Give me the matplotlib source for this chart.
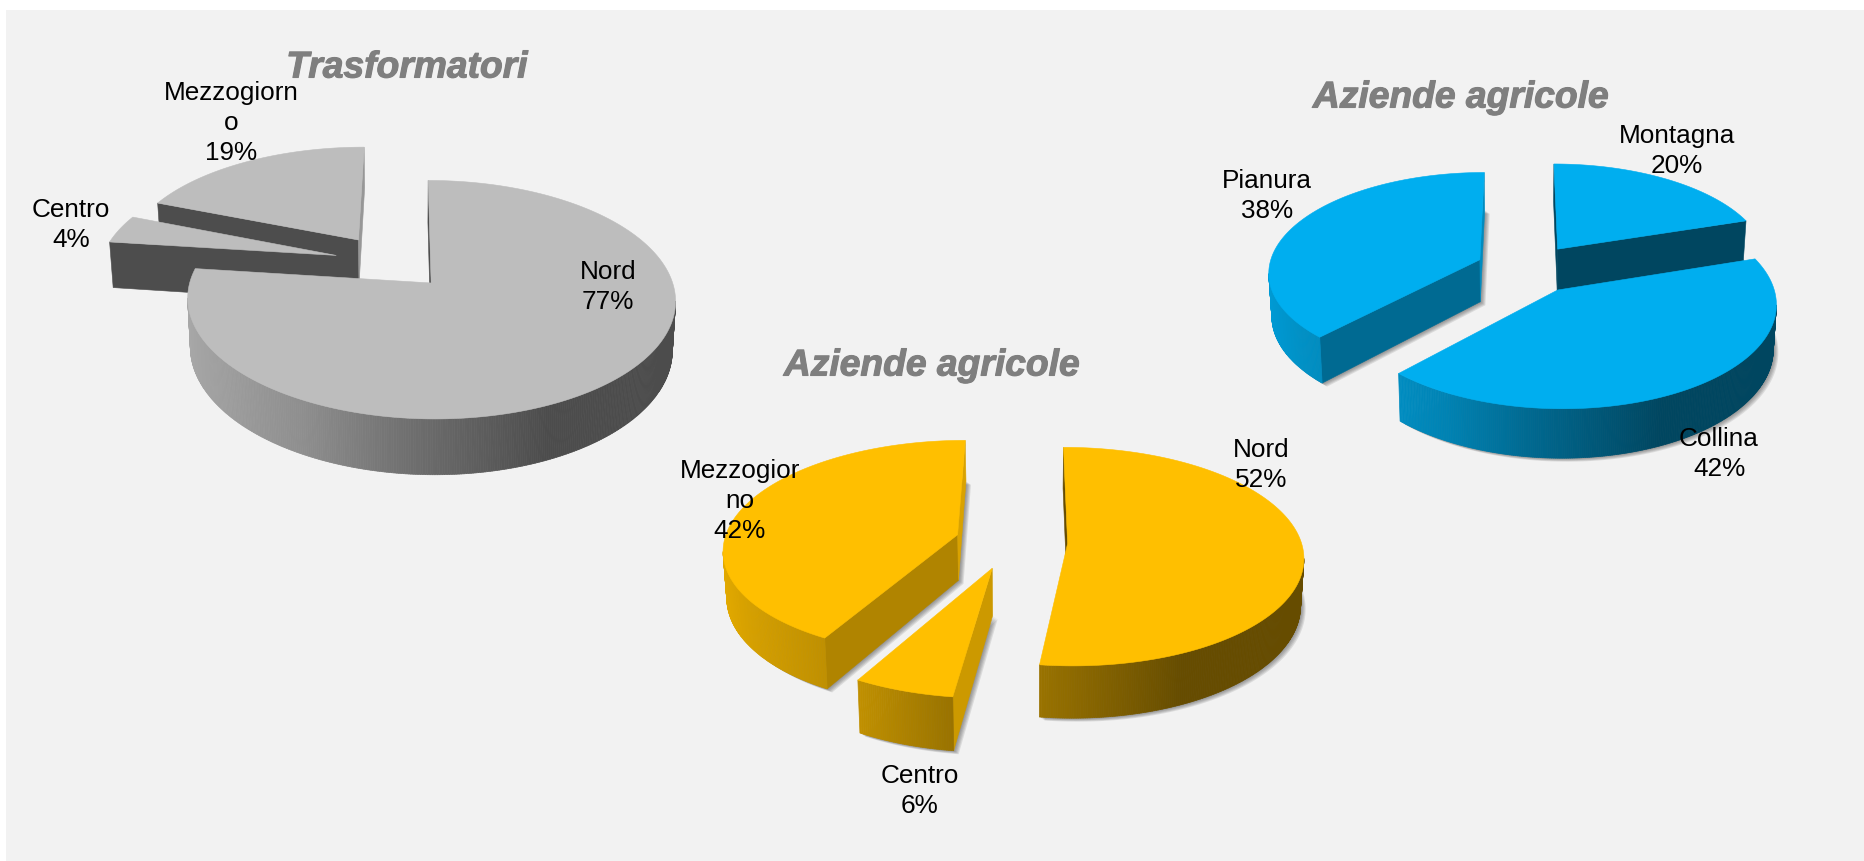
# torte 3D: trasformatori e aziende agricole
import numpy as np
import matplotlib
matplotlib.use("Agg")
import matplotlib.pyplot as plt
import matplotlib.patheffects as pe
from matplotlib.collections import PolyCollection
from matplotlib.patches import Polygon, Rectangle

# Dati (in senso orario da ore 12)
titles = ["Trasformatori", "Aziende agricole", "Aziende agricole"]

trasf_names = ["Nord", "Centro", "Mezzogiorn\no"]
trasf_values = [77, 4, 19]

nord_names = ["Nord", "Centro", "Mezzogior\nno"]
nord_values = [52, 6, 42]

zona_names = ["Montagna", "Collina", "Pianura"]
zona_values = [20, 42, 38]

# Stile delle torte: centro, raggi, prospettiva, spessore, colore
pies = [
    dict(names=trasf_names, values=trasf_values, title=titles[0], title_xy=(407, 68),
         cx=407, cy=283, rx=241.5, ry=116.9, k=0.14, depth=48, color="#BDBDBD", shadow=False,
         explode=[(0.10, 0.0), (-0.303, 0.244), (-0.212, 0.388)],
         cut=[(0.41, 0.41), (0.41, 0.80), (0.41, 0.80)],
         label_xy=[(608, 287), (71, 225), (231, 123)]),
    dict(names=nord_names, values=nord_values, title=titles[1], title_xy=(932, 366),
         cx=1029, cy=543.5, rx=234, ry=107.7, k=0.12, depth=46, color="#FFBF00", shadow=True,
         explode=[(0.165, 0.0), (-0.153, -0.224), (-0.308, 0.082)],
         cut=[(0.40, 0.40), (0.80, 0.80), (0.69, 0.85)],
         label_xy=[(1261, 465), (920, 791), (740, 501)]),
    dict(names=zona_names, values=zona_values, title=titles[2], title_xy=(1461, 98),
         cx=1521.7, cy=290, rx=216.6, ry=104.5, k=0.12, depth=43.5, color="#00AEEF", shadow=True,
         explode=[(0.174, 0.41), (0.166, 0.0), (-0.20, 0.30)],
         cut=[(0.40, 0.40), (0.40, 0.40), (0.61, 0.80)],
         label_xy=[(1677, 151), (1719, 454), (1267, 196)]),
]


def shade(color, f):
    rgb = np.array(matplotlib.colors.to_rgb(color))
    return tuple(rgb * f)


def rim_factor(t):
    # fianco chiaro a sinistra, scuro a destra
    return np.interp(np.sin(t), [-1, -0.47, -0.12, 0.42], [0.89, 0.75, 0.60, 0.40])


def project(pie, X, Z):
    w = 1 + pie["k"] * Z
    return pie["cx"] + pie["rx"] * X / w, pie["cy"] - pie["ry"] * Z / w, w


def drop(pie, x, y, w):
    # punto sul bordo inferiore dello spessore
    return pie["cx"] + (x - pie["cx"]) * 0.988, y + pie["depth"] / w


def draw_pie(ax, pie):
    total = sum(pie["values"])
    edges = np.cumsum([0] + pie["values"]) / total * 2 * np.pi
    slices = []
    for i in range(len(pie["values"])):
        ex, ez = pie["explode"][i]
        t = np.linspace(edges[i], edges[i + 1], max(int(np.degrees(edges[i + 1] - edges[i]) * 2), 2))
        X = np.concatenate([[ex], ex + np.sin(t)])
        Z = np.concatenate([[ez], ez + np.cos(t)])
        x, y, w = project(pie, X, Z)
        slices.append((ez, i, t, x, y, w))

    # ombra sotto le fette
    if pie["shadow"]:
        for ez, i, t, x, y, w in slices:
            bx, by = drop(pie, x, y, w)
            for off in (1, 2, 3, 4, 5):
                ax.add_patch(Polygon(np.column_stack([bx + off, by + off * 0.7]), closed=True,
                                     facecolor="#404040", edgecolor="none", alpha=0.13, zorder=1))

    z = 2
    for ez, i, t, x, y, w in sorted(slices, key=lambda s: -s[0]):
        bx, by = drop(pie, x, y, w)
        color = pie["color"]
        start_f, end_f = pie["cut"][i]

        # facce di taglio: visibili solo se il bordo va verso sinistra
        if x[1] < x[0]:
            quad = [(x[0], y[0]), (x[1], y[1]), (bx[1], by[1]), (bx[0], by[0])]
            ax.add_patch(Polygon(quad, closed=True, facecolor=shade(color, start_f),
                                 edgecolor=shade(color, start_f), lw=0.4, zorder=z))
        if x[0] < x[-1]:
            quad = [(x[-1], y[-1]), (x[0], y[0]), (bx[0], by[0]), (bx[-1], by[-1])]
            ax.add_patch(Polygon(quad, closed=True, facecolor=shade(color, end_f),
                                 edgecolor=shade(color, end_f), lw=0.4, zorder=z))

        # bordo esterno a strisce per il gradiente
        quads = []
        cols = []
        for j in range(1, len(x) - 1):
            if x[j + 1] < x[j]:
                quads.append([(x[j], y[j]), (x[j + 1], y[j + 1]), (bx[j + 1], by[j + 1]), (bx[j], by[j])])
                cols.append(shade(color, rim_factor(t[j - 1])))
        if quads:
            ax.add_collection(PolyCollection(quads, facecolors=cols, edgecolors=cols, linewidths=0.5, zorder=z + 1))

        ax.add_patch(Polygon(np.column_stack([x, y]), closed=True, facecolor=color,
                             edgecolor=color, lw=0.4, zorder=z + 2))
        z += 3

    ax.text(pie["title_xy"][0], pie["title_xy"][1], pie["title"], ha="center", va="center",
            fontsize=26.8, fontweight="bold", fontstyle="italic", color="#7F7F7F", zorder=60,
            path_effects=[pe.withStroke(linewidth=0.8, foreground="#7F7F7F")])

    for name, val, xy in zip(pie["names"], pie["values"], pie["label_xy"]):
        ax.text(xy[0], xy[1], f"{name}\n{val}%", ha="center", va="center", fontsize=18.8,
                color="black", linespacing=1.29, zorder=70)


def main():
    plt.rcParams["font.family"] = ["Liberation Sans", "DejaVu Sans"]
    fig = plt.figure(figsize=(18.65, 8.61), dpi=100, facecolor="white")
    ax = fig.add_axes([0, 0, 1, 1])
    ax.set_xlim(0, 1865)
    ax.set_ylim(861, 0)
    ax.axis("off")

    # fondo grigio fino al bordo destro e inferiore
    ax.add_patch(Rectangle((6, 10), 1859, 851, facecolor="#F2F2F2", edgecolor="none", zorder=0))

    for pie in pies:
        draw_pie(ax, pie)

    fig.savefig("out.png", dpi=100)


if __name__ == "__main__":
    main()
